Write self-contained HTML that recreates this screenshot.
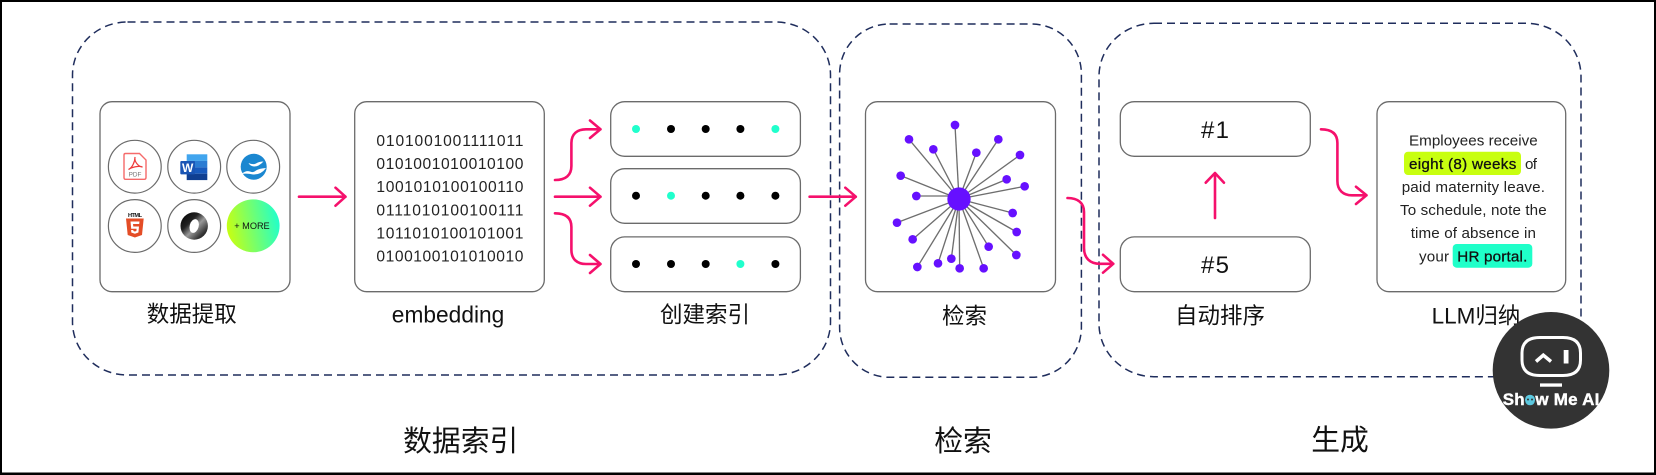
<!DOCTYPE html>
<html lang="zh">
<head>
<meta charset="utf-8">
<style>
html,body{margin:0;padding:0;background:#fff}
svg{display:block}
text{font-family:"Liberation Sans","Noto Sans CJK SC",sans-serif;fill:#111}
.box{fill:#fff;stroke:#6b6b6b;stroke-width:1.3}
.dash{fill:none;stroke:#1f2d5c;stroke-width:1.5;stroke-dasharray:8 5}
.ar{fill:none;stroke:#f5106c;stroke-width:2.6;stroke-linecap:round;stroke-linejoin:round}
.bin{font-size:15.6px;fill:#222}
.lab{font-size:22.5px;text-anchor:middle}
.big{font-size:28.8px;text-anchor:middle}
.t{font-size:15.2px;fill:#222}
.m{stroke:#111;stroke-width:.3}
.ring{fill:#fff;stroke:#6b6b6b;stroke-width:1.2}
.l line{stroke:#6e6e6e;stroke-width:4}
.l circle{fill:#6610ff}
</style>
</head>
<body>
<svg width="1656" height="475" viewBox="0 0 1656 475" xmlns="http://www.w3.org/2000/svg">
<defs>
<linearGradient id="g" x1="0" y1="0.6" x2="1" y2="0.4"><stop offset="0" stop-color="#c8ff10"/><stop offset="1" stop-color="#20ffcc"/></linearGradient>
<linearGradient id="j" x1="0" y1="0" x2="1" y2="1"><stop offset="0" stop-color="#000"/><stop offset=".35" stop-color="#222"/><stop offset=".55" stop-color="#999"/><stop offset=".8" stop-color="#333"/><stop offset="1" stop-color="#111"/></linearGradient>
</defs>
<rect x="0" y="0" width="1656" height="475" fill="#000"/>
<rect x="2" y="2" width="1652" height="470.5" fill="#fff"/>

<!-- dashed groups -->
<rect class="dash" x="72.5" y="22" width="758" height="353" rx="55" ry="53"/>
<rect class="dash" x="839.6" y="24" width="241.8" height="353.3" rx="50" ry="50"/>
<rect class="dash" x="1099" y="23.3" width="482" height="353.4" rx="55" ry="53"/>

<!-- boxes -->
<rect class="box" x="100" y="101.7" width="190" height="190" rx="12"/>
<rect class="box" x="354.7" y="101.7" width="189.6" height="190" rx="12"/>
<rect class="box" x="610.7" y="101.7" width="189.7" height="54.6" rx="14"/>
<rect class="box" x="610.7" y="168.7" width="189.7" height="54.6" rx="14"/>
<rect class="box" x="610.7" y="236.9" width="189.7" height="54.8" rx="14"/>
<rect class="box" x="865.5" y="101.7" width="190" height="190" rx="12"/>
<rect class="box" x="1120.3" y="101.7" width="190" height="54.6" rx="14"/>
<rect class="box" x="1120.3" y="236.9" width="190" height="54.8" rx="14"/>
<rect class="box" x="1377" y="101.7" width="188.7" height="190" rx="12"/>

<!-- file icons -->
<circle class="ring" cx="134.8" cy="166.7" r="26.4"/>
<circle class="ring" cx="194.2" cy="166.7" r="26.4"/>
<circle class="ring" cx="253.2" cy="166.7" r="26.4"/>
<circle class="ring" cx="134.8" cy="226" r="26.4"/>
<circle class="ring" cx="194.2" cy="226" r="26.4"/>
<circle cx="253.2" cy="225.8" r="26.4" fill="url(#g)"/>
<!-- pdf -->
<path d="M125.5 153.5H139.5L146 160V177.5Q146 179.3 144.2 179.3H125.5Q124 179.3 124 177.5V155Q124 153.5 125.5 153.5Z" fill="#fff" stroke="#f56a6a" stroke-width="1.4"/>
<path d="M135 157C135 162 132 168 128.5 169.5C132 167 139 165.5 142.5 167C139 167 134 162 135 157Z" fill="none" stroke="#ee3b3b" stroke-width="1.2"/>
<text x="135" y="176.6" font-size="6.4" text-anchor="middle" style="fill:#777">PDF</text>
<!-- word -->
<rect x="186.7" y="154.3" width="20.6" height="6.6" fill="#41a5ee"/>
<rect x="186.7" y="160.9" width="20.6" height="6.4" fill="#2b7cd3"/>
<rect x="186.7" y="167.3" width="20.6" height="6.4" fill="#185abd"/>
<rect x="186.7" y="173.7" width="20.6" height="6.4" fill="#103f91"/>
<rect x="180.3" y="161" width="14.7" height="13.4" rx="1" fill="#1a55b5"/>
<text x="187.7" y="172" font-size="12" font-weight="bold" text-anchor="middle" style="fill:#fff">W</text>
<!-- openoffice -->
<circle cx="253.7" cy="166.7" r="13" fill="#1b87d0"/>
<path d="M248.5 163Q253 165 256 163.500Q259 161.500 263.500 161.500Q259 166.500 254 166.500Q250 166 248.500 163Z" fill="#fff"/>
<path d="M241.500 174Q246 170 250 171.500Q253 173 256 170.500Q259 168.500 266 168Q261 175 253 174.500Q247 173 241.500 174Z" fill="#fff"/>
<!-- html5 -->
<text x="135" y="217" font-size="5.6" font-weight="bold" text-anchor="middle" textLength="14">HTML</text>
<path d="M126 218.500H143.700L142 235L134.900 237.500L127.700 235Z" fill="#e44d26"/>
<path d="M130.500 221.500H139.500L139.200 224H133L133.300 226.500H139L138.400 232.500L134.900 233.700L131.300 232.500L131.100 230H133.300L133.400 231L134.900 231.500L136.400 231L136.600 228.800H131.200Z" fill="#fff"/>
<!-- json -->
<ellipse cx="194.200" cy="226" rx="13.700" ry="13.700" fill="url(#j)"/>
<ellipse cx="194.200" cy="226" rx="4.500" ry="7" fill="#fff" transform="rotate(15 194.200 226)"/>
<!-- more -->
<text x="234.300" y="229.200" font-size="9.200" textLength="35.400">+ MORE</text>

<!-- binary -->
<text class="bin" x="376.400" y="146" textLength="147">0101001001111011</text>
<text class="bin" x="376.400" y="169" textLength="147">0101001010010100</text>
<text class="bin" x="376.400" y="192" textLength="147">1001010100100110</text>
<text class="bin" x="376.400" y="215.300" textLength="147">0111010100100111</text>
<text class="bin" x="376.400" y="238.700" textLength="147">1011010100101001</text>
<text class="bin" x="376.400" y="261.700" textLength="147">0100100101010010</text>

<!-- arrows -->
<g class="ar">
<path d="M299 196.700H345.500M335.500 187.700L345.500 196.700L335.500 205.700"/>
<path d="M555 180C566 180 571.400 175 571.400 166V143C571.400 134 577 129.300 586 129.300H600.500M590 120.500L600.500 129.300L590 138"/>
<path d="M555 196.700H600.500M590 187.700L600.500 196.700L590 205.700"/>
<path d="M555 213.300C566 213.300 571.400 218 571.400 227V250C571.400 259 577 264 586 264H600.500M590 255L600.500 264L590 273"/>
<path d="M809.600 196.700H855.800M845.300 187.700L855.800 196.700L845.300 205.700"/>
<path d="M1067.500 198C1078 198 1084 203 1084 212V248C1084 258 1090 263.800 1100 263.800H1113.300M1103 254.800L1113.300 263.800L1103 272.700"/>
<path d="M1215 218V173M1205.700 182.700L1215 173L1224 182.700"/>
<path d="M1321 129.300C1332 129.300 1337.400 134 1337.400 143V181C1337.400 190 1343 195.300 1352 195.300H1366.500M1356 186.700L1366.500 195.300L1356 204"/>
</g>

<!-- index dots -->
<g fill="#000">
<circle cx="636" cy="129" r="4" fill="#20ffcc"/><circle cx="671" cy="129" r="4"/><circle cx="705.700" cy="129" r="4"/><circle cx="740.400" cy="129" r="4"/><circle cx="775.400" cy="129" r="4" fill="#20ffcc"/>
<circle cx="636" cy="195.700" r="4"/><circle cx="671" cy="195.700" r="4" fill="#20ffcc"/><circle cx="705.700" cy="195.700" r="4"/><circle cx="740.400" cy="195.700" r="4"/><circle cx="775.400" cy="195.700" r="4"/>
<circle cx="636" cy="264" r="4"/><circle cx="671" cy="264" r="4"/><circle cx="705.700" cy="264" r="4"/><circle cx="740.400" cy="264" r="4" fill="#20ffcc"/><circle cx="775.400" cy="264" r="4"/>
</g>

<!-- star graph -->
<g class="l" transform="translate(860 100) scale(.33333)">
<line x1="297" y1="297" x2="285" y2="75"/><line x1="297" y1="297" x2="147" y2="118"/><line x1="297" y1="297" x2="220" y2="148"/><line x1="297" y1="297" x2="349" y2="158"/><line x1="297" y1="297" x2="415" y2="118"/><line x1="297" y1="297" x2="480" y2="165"/><line x1="297" y1="297" x2="440" y2="238"/><line x1="297" y1="297" x2="494" y2="259"/><line x1="297" y1="297" x2="122" y2="227"/><line x1="297" y1="288" x2="169" y2="288"/><line x1="297" y1="297" x2="111" y2="368"/><line x1="297" y1="297" x2="158" y2="418"/><line x1="297" y1="297" x2="172" y2="501"/><line x1="297" y1="297" x2="234" y2="490"/><line x1="297" y1="297" x2="274" y2="476"/><line x1="297" y1="297" x2="299" y2="505"/><line x1="297" y1="297" x2="371" y2="505"/><line x1="297" y1="297" x2="386" y2="440"/><line x1="297" y1="297" x2="469" y2="465"/><line x1="297" y1="297" x2="470" y2="396"/><line x1="297" y1="297" x2="458" y2="339"/>
<circle cx="297" cy="297" r="35"/>
<circle cx="285" cy="75" r="13"/><circle cx="147" cy="118" r="13"/><circle cx="220" cy="148" r="13"/><circle cx="349" cy="158" r="13"/><circle cx="415" cy="118" r="13"/><circle cx="480" cy="165" r="13"/><circle cx="440" cy="238" r="13"/><circle cx="494" cy="259" r="13"/><circle cx="122" cy="227" r="13"/><circle cx="169" cy="288" r="13"/><circle cx="111" cy="368" r="13"/><circle cx="158" cy="418" r="13"/><circle cx="172" cy="501" r="13"/><circle cx="234" cy="490" r="13"/><circle cx="274" cy="476" r="13"/><circle cx="299" cy="505" r="13"/><circle cx="371" cy="505" r="13"/><circle cx="386" cy="440" r="13"/><circle cx="469" cy="465" r="13"/><circle cx="470" cy="396" r="13"/><circle cx="458" cy="339" r="13"/>
</g>

<!-- rank labels -->
<text x="1215" y="138" font-size="24" text-anchor="middle" textLength="28">#1</text>
<text x="1215" y="273" font-size="24" text-anchor="middle" textLength="28">#5</text>

<!-- LLM text -->
<rect x="1404" y="151.700" width="117" height="23.300" rx="4" fill="#c8ff10"/>
<rect x="1452.700" y="244" width="79.600" height="23.700" rx="4" fill="#1fffc9"/>
<text class="t" x="1409" y="145.500" textLength="128.700">Employees receive</text>
<text class="t m" x="1409" y="168.800" textLength="107.300" style="fill:#111">eight (8) weeks</text>
<text class="t" x="1525" y="168.800" textLength="12">of</text>
<text class="t" x="1401.700" y="192" textLength="143.300">paid maternity leave.</text>
<text class="t" x="1400" y="214.800" textLength="146.700">To schedule, note the</text>
<text class="t" x="1410.700" y="238.200" textLength="125.300">time of absence in</text>
<text class="t" x="1419" y="261.500" textLength="30">your</text>
<text class="t m" x="1457.300" y="261.500" textLength="70" style="fill:#111">HR portal.</text>

<!-- labels -->
<text class="lab" x="191.700" y="322">数据提取</text>
<text x="391.800" y="322.700" font-size="22.700" textLength="112.500">embedding</text>
<text class="lab" x="705" y="322.500">创建索引</text>
<text class="lab" x="964.500" y="324">检索</text>
<text class="lab" x="1220" y="323.500">自动排序</text>
<text class="lab" x="1476" y="323.500">LLM归纳</text>
<text class="big" x="460.700" y="451">数据索引</text>
<text class="big" x="963" y="451">检索</text>
<text class="big" x="1340" y="450">生成</text>

<!-- badge -->
<circle cx="1551" cy="370.300" r="58.300" fill="#333"/>
<path d="M1540 337.500H1563Q1580.500 337.500 1580.500 353V360Q1580.500 375.500 1563 375.500H1540Q1522 375.500 1522 360V353Q1522 337.500 1540 337.500Z" fill="none" stroke="#fff" stroke-width="3"/>
<path d="M1536 361.500L1543.300 355.200L1551 361.500" fill="none" stroke="#fff" stroke-width="3.500"/>
<rect x="1563.700" y="350" width="4.800" height="13.500" fill="#fff"/>
<rect x="1540" y="383.400" width="22" height="3.300" fill="#fff"/>
<text x="1502.700" y="405" font-size="17" font-weight="bold" textLength="96.600" style="fill:#fff;stroke:#fff;stroke-width:.4">Sh<tspan style="fill:#5cc8df;stroke:#5cc8df">o</tspan>w Me AI</text>
<circle cx="1530" cy="399.700" r="5" fill="#5cc8df"/>
<circle cx="1528" cy="399.500" r="1" fill="#333"/>
<circle cx="1532" cy="399.500" r="1" fill="#333"/>
</svg>
</body>
</html>
